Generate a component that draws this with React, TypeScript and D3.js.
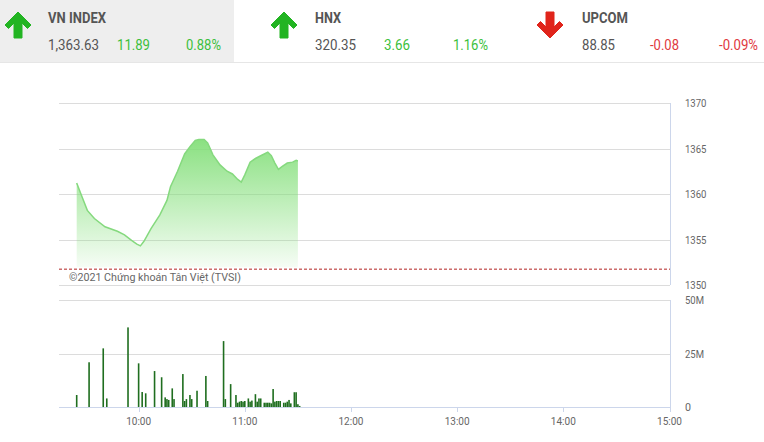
import React from "react";
import * as d3 from "d3";

// ---- data ----
const indexNames = ["VN INDEX", "HNX", "UPCOM"];
const indexValues = ["1,363.63", "320.35", "88.85"];
const indexChanges = ["11.89", "3.66", "-0.08"];
const indexPercents = ["0.88%", "1.16%", "-0.09%"];

const priceTimes = ["9:25","9:28","9:31","9:35","9:41","9:48","9:52","9:56","9:59","10:01","10:03","10:07","10:12","10:16","10:18","10:22","10:26","10:29","10:32","10:34","10:37","10:39","10:42","10:46","10:50","10:53","10:56","10:58","11:00","11:03","11:06","11:09","11:11","11:13","11:15","11:17","11:19","11:21","11:24","11:27","11:29","11:30"];
const priceValues = [1361.2,1359.7,1358.2,1357.3,1356.4,1355.9,1355.5,1354.9,1354.5,1354.3,1354.8,1356.2,1357.7,1359.3,1360.8,1362.5,1364.4,1365.2,1365.9,1366.0,1366.0,1365.6,1364.3,1363.2,1362.5,1362.2,1361.6,1361.3,1362.1,1363.5,1363.9,1364.2,1364.4,1364.6,1364.2,1363.4,1362.7,1363.0,1363.4,1363.5,1363.7,1363.63];
const prevClose = 1351.74;

const volTimes = ["9:25","9:32","9:40","9:42","9:54","10:00","10:02","10:04","10:09","10:13","10:15","10:16","10:17","10:19","10:20","10:25","10:26","10:27","10:29","10:30","10:33","10:38","10:39","10:48","10:49","10:52","10:55","10:56","10:57","10:58","10:59","11:00","11:02","11:03","11:04","11:06","11:07","11:08","11:09","11:11","11:12","11:13","11:14","11:15","11:16","11:17","11:18","11:19","11:20","11:22","11:23","11:24","11:25","11:26","11:28","11:29","11:30","11:31"];
const volValues = [5.6,20.9,27.4,4.0,37.2,20.4,7.0,6.4,16.8,13.9,4.5,3.7,3.3,8.7,3.7,15.4,2.8,3.7,5.6,3.7,7.6,14.5,2.8,30.8,3.7,10.7,5.6,2.0,2.5,2.8,2.5,2.8,4.0,2.5,3.0,6.0,2.5,4.0,4.0,2.0,2.0,2.0,2.0,1.7,8.4,2.5,2.8,2.8,2.8,2.0,2.0,2.5,3.3,1.7,6.9,6.9,1.3,0.5];

const priceTicks = [1350, 1355, 1360, 1365, 1370];
const volTicks = [0, 25, 50];
const volTickLabels = ["0", "25M", "50M"];
const timeTicks = ["10:00", "11:00", "12:00", "13:00", "14:00", "15:00"];

const toMin = (s: string) => {
  const [h, m] = s.split(":").map(Number);
  return h * 60 + m;
};

const UP = "#22b422";
const DOWN = "#e0241b";

function Arrow({ cx, up, color }: { cx: number; up: boolean; color: string }) {
  const pts = [
    [0, 12], [13, 25], [9.5, 28.5], [4, 23], [4, 38], [-4, 38], [-4, 23], [-9.5, 28.5], [-13, 25],
  ];
  const p = pts
    .map(([x, y]) => `${cx + x},${up ? y : 50 - y}`)
    .join(" ");
  return <polygon points={p} fill={color} stroke={color} strokeWidth={1} strokeLinejoin="round" />;
}

export default function App() {
  const W = 764, H = 442;
  const x = d3.scaleLinear().domain([toMin("9:15"), toMin("15:00")]).range([59, 669.5]);
  const y = d3.scaleLinear().domain([1350, 1370]).range([285, 103]);
  const yv = d3.scaleLinear().domain([0, 50]).range([407, 300]);

  const pts = priceTimes.map((t, i) => ({ t: toMin(t), v: priceValues[i] }));
  const line = d3.line<{ t: number; v: number }>().x(d => x(d.t)).y(d => y(d.v));
  const area = d3.area<{ t: number; v: number }>().x(d => x(d.t)).y0(y(prevClose) - 2).y1(d => y(d.v));

  const header = [
    { ax: 18, nx: 48, vx: 48, cx: 117, px: 186, nw: 58, vw: 51, cw: 33, pw: 35, up: true },
    { ax: 284, nx: 315, vx: 315, cx: 384, px: 453, nw: 26, vw: 41, cw: 26, pw: 35, up: true },
    { ax: 550, nx: 582, vx: 582, cx: 650, px: 719, nw: 46, vw: 33, cw: 29, pw: 39, up: false },
  ];

  const font = "Roboto, 'Noto Sans', sans-serif";

  return (
    <svg width={W} height={H} style={{ position: "absolute", left: 0, top: 0, fontFamily: font }}>
      <defs>
        <linearGradient id="g" gradientUnits="userSpaceOnUse" x1="0" y1={y(1366)} x2="0" y2={y(prevClose)}>
          <stop offset="0" stopColor="rgb(128,222,118)" stopOpacity={0.92} />
          <stop offset="1" stopColor="rgb(128,222,118)" stopOpacity={0.06} />
        </linearGradient>
      </defs>
      <rect x={0} y={0} width={W} height={H} fill="#fff" />
      {/* header */}
      <rect x={0} y={0} width={234} height={62} fill="#eeeeee" />
      <line x1={0} x2={W} y1={62.5} y2={62.5} stroke="#e6e6e6" />
      {header.map((h, i) => {
        const col = h.up ? UP : DOWN;
        return (
          <g key={i}>
            <Arrow cx={h.ax} up={h.up} color={col} />
            <text x={h.nx} y={22.5} fontSize={15} fontWeight="bold" fill="#555" textLength={h.nw} lengthAdjust="spacingAndGlyphs">{indexNames[i]}</text>
            <text x={h.vx} y={50} fontSize={15} fill="#555" textLength={h.vw} lengthAdjust="spacingAndGlyphs">{indexValues[i]}</text>
            <text x={h.cx} y={50} fontSize={15} fill={h.up ? "#3cbf3c" : "#e0393e"} textLength={h.cw} lengthAdjust="spacingAndGlyphs">{indexChanges[i]}</text>
            <text x={h.px} y={50} fontSize={15} fill={h.up ? "#3cbf3c" : "#e0393e"} textLength={h.pw} lengthAdjust="spacingAndGlyphs">{indexPercents[i]}</text>
          </g>
        );
      })}

      {/* price chart */}
      {priceTicks.map(t => (
        <g key={t}>
          <line x1={59} x2={670} y1={Math.round(y(t)) + 0.5} y2={Math.round(y(t)) + 0.5} stroke="#dcdcdc" />
          <text x={685} y={y(t) + 4} fontSize={10.5} fill="#666" textLength={21.5} lengthAdjust="spacingAndGlyphs">{t}</text>
        </g>
      ))}
      <line x1={670.5} x2={670.5} y1={y(1370)} y2={y(1350)} stroke="#ccd6eb" />
      <path d={area(pts) || ""} fill="url(#g)" />
      <path d={line(pts) || ""} fill="none" stroke="#85d97e" strokeWidth={1.5} />
      <line x1={59} x2={670} y1={y(prevClose)} y2={y(prevClose)} stroke="#b22222" strokeDasharray="3,2" strokeWidth={1} />
      <text x={69} y={281} fontSize={11.5} fill="#666" textLength={172} lengthAdjust="spacingAndGlyphs">©2021 Chứng khoán Tân Việt (TVSI)</text>

      {/* volume chart */}
      {volTicks.map((t, i) => (
        <g key={t}>
          {t !== 0 && <line x1={59} x2={670} y1={Math.round(yv(t)) + 0.5} y2={Math.round(yv(t)) + 0.5} stroke="#dcdcdc" />}
          <text x={685} y={yv(t) + 4} fontSize={10.5} fill="#666" textLength={t === 0 ? 6 : 19} lengthAdjust="spacingAndGlyphs">{volTickLabels[i]}</text>
        </g>
      ))}
      <line x1={670.5} x2={670.5} y1={yv(50)} y2={yv(0)} stroke="#ccd6eb" />
      {volTimes.map((t, i) => (
        <rect key={i} x={x(toMin(t)) - 0.8} width={1.6} y={yv(volValues[i])} height={yv(0) - yv(volValues[i])} fill="#1f6e1f" />
      ))}
      <line x1={59} x2={670} y1={407.5} y2={407.5} stroke="#ccd6eb" />
      {timeTicks.map(t => (
        <g key={t}>
          <line x1={Math.round(x(toMin(t))) + 0.5} x2={Math.round(x(toMin(t))) + 0.5} y1={407} y2={412} stroke="#ccd6eb" />
          <text x={x(toMin(t))} y={425} fontSize={11} fill="#666" textAnchor="middle" textLength={25} lengthAdjust="spacingAndGlyphs">{t}</text>
        </g>
      ))}
    </svg>
  );
}
